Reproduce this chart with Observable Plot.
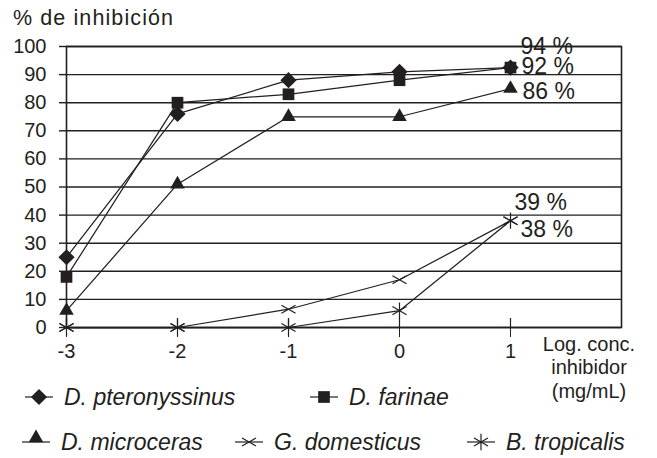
<!DOCTYPE html>
<html><head><meta charset="utf-8">
<script src="https://cdn.jsdelivr.net/npm/d3@7"></script>
<script src="https://cdn.jsdelivr.net/npm/@observablehq/plot@0.6"></script>
<style>
body{margin:0;background:#fff;}
#wrap{position:relative;width:657px;height:458px;font-family:"Liberation Sans",Arial,sans-serif;color:#231f20;}
#wrap svg.plot{position:absolute;left:0;top:0;}
#title{position:absolute;left:13px;top:8px;font-size:21.5px;line-height:1;letter-spacing:1.1px;white-space:nowrap;}
#xlabel{position:absolute;left:529px;top:333px;width:120px;text-align:center;font-size:20px;line-height:23.3px;}
.item{position:absolute;display:flex;align-items:center;height:24px;font-size:23px;line-height:24px;font-style:italic;white-space:nowrap;}
.item svg{margin-right:11px;overflow:visible;}
</style></head><body><div id="wrap"></div>
<script>
// ---- data ----
const concentrations = [-3, -2, -1, 0, 1];
const seriesNames = ["D. pteronyssinus", "D. farinae", "D. microceras", "G. domesticus", "B. tropicalis"];
const pteronyssinus = [25, 76, 88, 91, 92.5];
const farinae = [18, 80, 83, 88, 92.5];
const microceras = [6, 51, 75, 75, 85];
const domesticus = [0, 0, 6.5, 17, 38];
const tropicalis = [0, 0, 0, 6, 38];
const endLabels = ["94 %", "92 %", "86 %", "39 %", "38 %"];
const yTicks = [0, 10, 20, 30, 40, 50, 60, 70, 80, 90, 100];
const xTicks = [-3, -2, -1, 0, 1];
const titleText = "% de inhibición";
const xLabelLines = ["Log. conc.", "inhibidor", "(mg/mL)"];

// ---- styles ----
const ink = "#231f20";
const flatX = {draw(context, size) {
  const r = Math.sqrt(size + Math.min(size / 28, 0.75)) * 0.59436;
  const t = r / 2, u = t * Math.sqrt(3);
  context.moveTo(-u, -t); context.lineTo(u, t);
  context.moveTo(-u, t); context.lineTo(u, -t);
}};
const allValues = [pteronyssinus, farinae, microceras, domesticus, tropicalis];
const symbols = ["diamond2", "square", "triangle", flatX, "asterisk"];
const filled = [true, true, true, false, false];
const radii = [7.3, 6.6, 5.4, 7.7, 7.7];
const labelOffsets = [[10, -21], [11, -1], [12, 3], [4, -18], [10, 9]];

const tables = allValues.map((vals, i) => concentrations.map((c, j) => ({x: c, y: vals[j], s: seriesNames[i]})));

const marks = [
  Plot.ruleY(yTicks, {stroke: ink, strokeWidth: 1.4}),
  Plot.frame({stroke: ink, strokeWidth: 1.6}),
  Plot.axisY({ticks: yTicks, tickSize: 7, tickPadding: 13, label: null, fontSize: 20, stroke: ink, strokeWidth: 1.4}),
  Plot.axisX({ticks: xTicks, tickSize: 10, tickPadding: 6, label: null, fontSize: 20, stroke: ink, tickFormat: d => String(d)}),
  Plot.ruleX(xTicks, {x: d => d, y1: 0, y2: 3.2, stroke: ink, strokeWidth: 1.2})
];
tables.forEach(t => marks.push(Plot.line(t, {x: "x", y: "y", stroke: ink, strokeWidth: 1.25})));
tables.forEach((t, i) => marks.push(Plot.dot(t, {
  x: "x", y: "y", symbol: symbols[i], r: radii[i],
  fill: filled[i] ? ink : "none", stroke: filled[i] ? "none" : ink, strokeWidth: 1.2
})));
endLabels.forEach((lab, i) => marks.push(Plot.text([lab], {
  x: () => concentrations[concentrations.length - 1],
  y: () => allValues[i][allValues[i].length - 1],
  text: d => d, textAnchor: "start", fontSize: 23, fill: ink,
  dx: labelOffsets[i][0], dy: labelOffsets[i][1]
})));

const chart = Plot.plot({
  width: 657, height: 458,
  marginTop: 46, marginBottom: 131, marginLeft: 66, marginRight: 36,
  x: {domain: [-3, 2]},
  y: {domain: [0, 100]},
  style: {fontFamily: '"Liberation Sans", Arial, sans-serif', fontSize: "20px", color: ink, background: "transparent"},
  marks
});
chart.classList.add("plot");
const wrap = document.getElementById("wrap");
wrap.appendChild(chart);

const title = document.createElement("div");
title.id = "title"; title.textContent = titleText;
wrap.appendChild(title);

const xl = document.createElement("div");
xl.id = "xlabel"; xl.innerHTML = xLabelLines.join("<br>");
wrap.appendChild(xl);

// ---- legend ----
const legendPos = [[25, 385], [310, 385], [22, 430], [235, 430], [467, 430]];
seriesNames.forEach((name, i) => {
  const item = document.createElement("div");
  item.className = "item";
  item.style.left = legendPos[i][0] + "px";
  item.style.top = legendPos[i][1] + "px";
  const svg = d3.create("svg").attr("width", 28).attr("height", 24);
  svg.append("line").attr("x1", 0).attr("x2", 28).attr("y1", 12).attr("y2", 12).attr("stroke", ink).attr("stroke-width", 1.2);
  const symType = typeof symbols[i] === "string"
    ? ({diamond2: d3.symbolDiamond2, square: d3.symbolSquare, triangle: d3.symbolTriangle, asterisk: d3.symbolAsterisk})[symbols[i]]
    : symbols[i];
  const size = Math.PI * radii[i] * radii[i];
  const yOff = symbols[i] === "triangle" ? 8 : 12;
  svg.append("path").attr("d", d3.symbol(symType, size)())
    .attr("transform", `translate(14,${yOff})`)
    .attr("fill", filled[i] ? ink : "none").attr("stroke", filled[i] ? "none" : ink).attr("stroke-width", 1.2);
  item.appendChild(svg.node());
  const span = document.createElement("span");
  span.textContent = name;
  item.appendChild(span);
  wrap.appendChild(item);
});
</script>
</body></html>
